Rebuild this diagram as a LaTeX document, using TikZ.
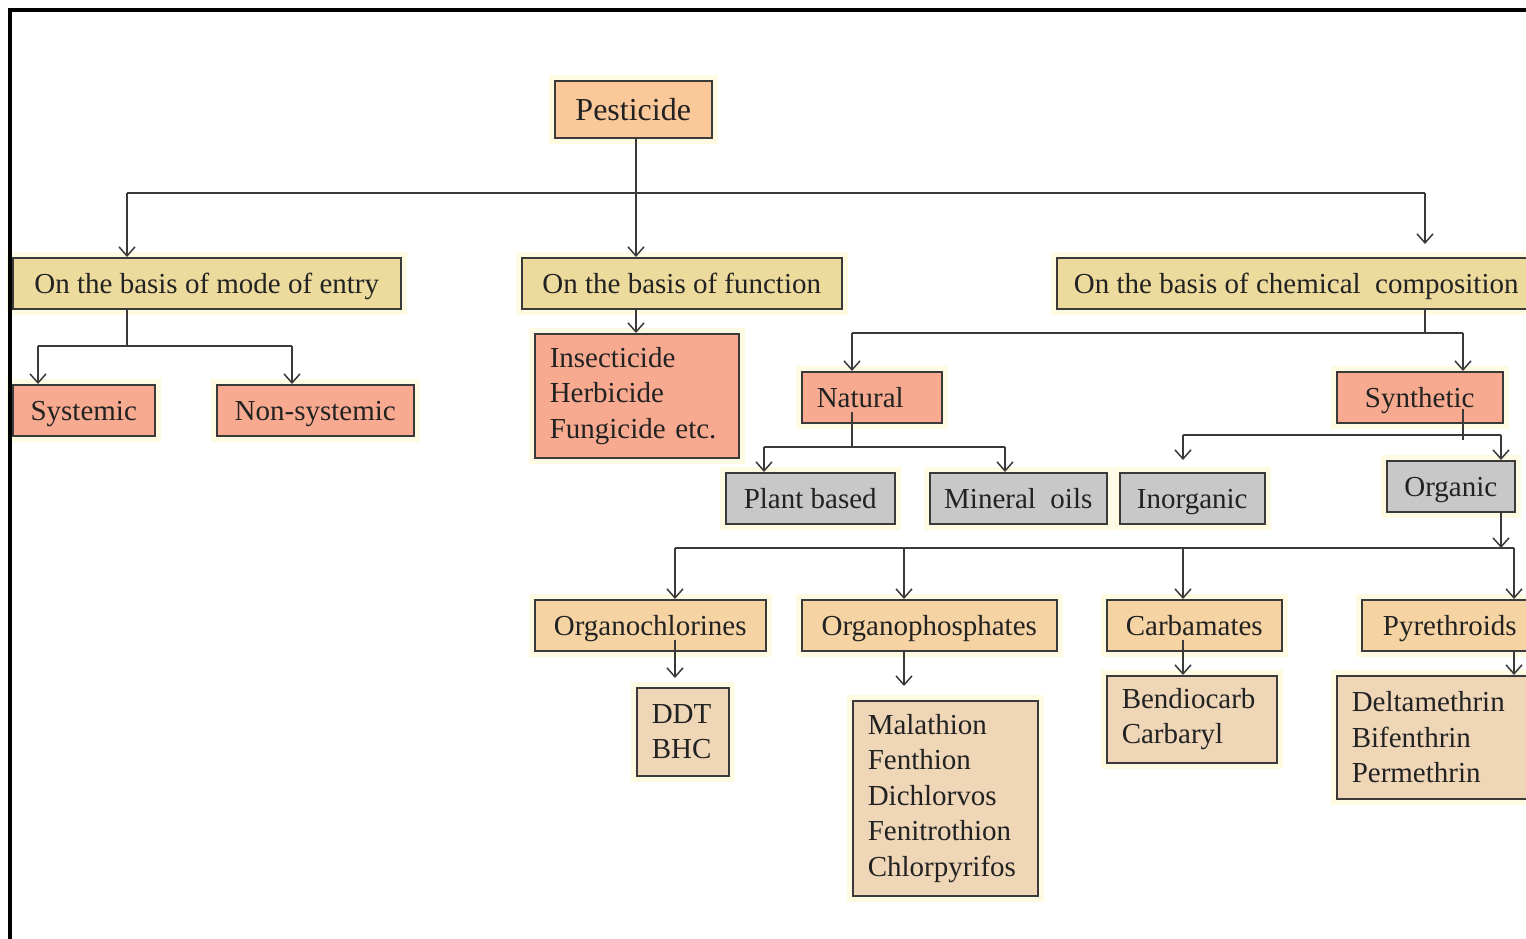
\documentclass[tikz,border=0pt]{standalone}
\usepackage{fontspec}
\setmainfont{Liberation Serif}
\usetikzlibrary{arrows.meta,calc}
\definecolor{peach}{HTML}{FAC899}
\definecolor{khaki}{HTML}{EDDB9E}
\definecolor{salmon}{HTML}{F7AA8F}
\definecolor{greybox}{HTML}{C8C8C8}
\definecolor{tanbox}{HTML}{F5D3A3}
\definecolor{beige}{HTML}{EED6B7}
\definecolor{edge}{HTML}{3A3A3A}
\definecolor{glow}{HTML}{FFFBE2}
\definecolor{ink}{HTML}{222222}
\begin{document}
\begin{tikzpicture}[x=1pt,y=-1pt,
  box/.style={draw=edge, line width=1.5pt, inner sep=0pt, anchor=north west,
    text=ink, font=\fontsize{29}{35.5}\selectfont,
    preaction={draw=glow, line width=12pt}},
  sz/.style 2 args={minimum width=#1pt, minimum height=#2pt, text height=20pt, text depth=0pt},
  listbox/.style={box, align=left, inner xsep=15pt},
  conn/.style={draw=edge, line width=1.5pt},
  arr/.style={conn, -{Straight Barb[length=9pt,width=16pt,line width=1.5pt]}}
]
\useasboundingbox (0,0) rectangle (1526,938);
\clip (0,0) rectangle (1526,938);
\fill[white] (0,0) rectangle (1526,938);

% nodes
\node[box, fill=peach, sz={157}{57}, font=\fontsize{32}{38}\selectfont, text height=22pt] (pest) at (554,80) {Pesticide};
\node[box, fill=khaki, sz={388}{51}] (mode) at (12,257) {On the basis of mode of entry};
\node[box, fill=khaki, sz={320}{51}] (func) at (521,257) {On the basis of function};
\node[box, fill=khaki, sz={479}{51}] (chem) at (1056,257) {On the basis of chemical\ \ composition};
\node[box, fill=salmon, sz={142}{51}] (sys) at (12,384) {Systemic};
\node[box, fill=salmon, sz={197}{51}] (nonsys) at (216,384) {Non-systemic};
\node[listbox, fill=salmon, text width=174pt, minimum height=124pt] (ins) at (534,333) {Insecticide\\Herbicide\\Fungicide etc.};
\node[listbox, fill=salmon, text width=110pt, minimum height=51pt, text height=20pt, text depth=0pt] (nat) at (801,371) {Natural};
\node[box, fill=salmon, sz={166}{51}] (syn) at (1336,371) {Synthetic};
\node[box, fill=greybox, sz={169}{51}] (plant) at (725,472) {Plant based};
\node[box, fill=greybox, sz={177}{51}] (mineral) at (929,472) {Mineral\ \ oils};
\node[box, fill=greybox, sz={145}{51}] (inorg) at (1119,472) {Inorganic};
\node[box, fill=greybox, sz={128}{51}] (org) at (1386,460) {Organic};
\node[box, fill=tanbox, sz={231}{51}] (ochl) at (534,599) {Organochlorines};
\node[box, fill=tanbox, sz={255}{51}] (ophos) at (801,599) {Organophosphates};
\node[box, fill=tanbox, sz={175}{51}] (carb) at (1106,599) {Carbamates};
\node[box, fill=tanbox, sz={176}{51}] (pyr) at (1361,599) {Pyrethroids};
\node[listbox, fill=beige, text width=62pt, minimum height=88pt] (ddt) at (636,687) {DDT\\BHC};
\node[listbox, fill=beige, text width=155pt, minimum height=195pt] (mala) at (852,700) {Malathion\\Fenthion\\Dichlorvos\\Fenitrothion\\Chlorpyrifos};
\node[listbox, fill=beige, text width=140pt, minimum height=87pt] (bend) at (1106,675) {Bendiocarb\\Carbaryl};
\node[listbox, fill=beige, text width=174pt, minimum height=123pt] (delta) at (1336,675) {Deltamethrin\\Bifenthrin\\Permethrin};

% junction coordinates
\coordinate (j0) at (636,193);
\coordinate (a1) at (127,193);
\coordinate (a3) at (1425,193);
\coordinate (m1) at (127,346);
\coordinate (m2) at (38,346);
\coordinate (m3) at (292,346);
\coordinate (c1) at (1425,333);
\coordinate (c2) at (852,333);
\coordinate (c3) at (1463,333);
\coordinate (n1) at (852,447);
\coordinate (n2) at (764,447);
\coordinate (n3) at (1005,447);
\coordinate (s1) at (1463,435);
\coordinate (s2) at (1183,435);
\coordinate (s3) at (1501,435);
\coordinate (o0) at (1501,548);
\coordinate (o1) at (675,548);
\coordinate (o2) at (904,548);
\coordinate (o3) at (1183,548);
\coordinate (o4) at (1514,548);

% top level
\draw[conn] (a1) -- (a3);
\draw[arr] (pest.south -| j0) -- (j0 |- func.north);
\draw[arr] (a1) -- (a1 |- mode.north);
\draw[arr] (a3) -- ($(a3 |- chem.north)+(0,-13)$);

% mode of entry
\draw[conn] (mode.south -| m1) -- (m1);
\draw[conn] (m2) -- (m3);
\draw[arr] (m2) -- (m2 |- sys.north);
\draw[arr] (m3) -- (m3 |- nonsys.north);

% function
\draw[arr] (func.south -| j0) -- (j0 |- ins.north);

% chemical composition
\draw[conn] (chem.south -| c1) -- (c1);
\draw[conn] (c2) -- (c3);
\draw[arr] (c2) -- (c2 |- nat.north);
\draw[arr] (c3) -- (c3 |- syn.north);

% natural
\draw[conn] ($(nat.south -| n1)+(0,-12)$) -- (n1);
\draw[conn] (n2) -- (n3);
\draw[arr] (n2) -- (n2 |- plant.north);
\draw[arr] (n3) -- (n3 |- mineral.north);

% synthetic
\draw[conn] ($(syn.south -| s1)+(0,-15)$) -- ($(s1)+(0,5)$);
\draw[conn] (s2) -- (s3);
\draw[arr] (s2) -- ($(s2 |- inorg.north)+(0,-12)$);
\draw[arr] (s3) -- (s3 |- org.north);

% organic
\draw[arr] (org.south -| o0) -- (o0);
\draw[conn] (o1) -- (o4);
\draw[arr] (o1) -- (o1 |- ochl.north);
\draw[arr] (o2) -- (o2 |- ophos.north);
\draw[arr] (o3) -- (o3 |- carb.north);
\draw[arr] (o4) -- (o4 |- pyr.north);

% classes to examples
\draw[arr] ($(ochl.south -| o1)+(0,-12)$) -- ($(ddt.north -| o1)+(0,-9)$);
\draw[arr] (ophos.south -| o2) -- ($(mala.north -| o2)+(0,-14)$);
\draw[arr] ($(carb.south -| o3)+(0,-12)$) -- (bend.north -| o3);
\draw[arr] (pyr.south -| o4) -- (delta.north -| o4);

% frame
\draw[line width=4pt, black] (10,940) -- (10,10) -- (1530,10);
\end{tikzpicture}
\end{document}
